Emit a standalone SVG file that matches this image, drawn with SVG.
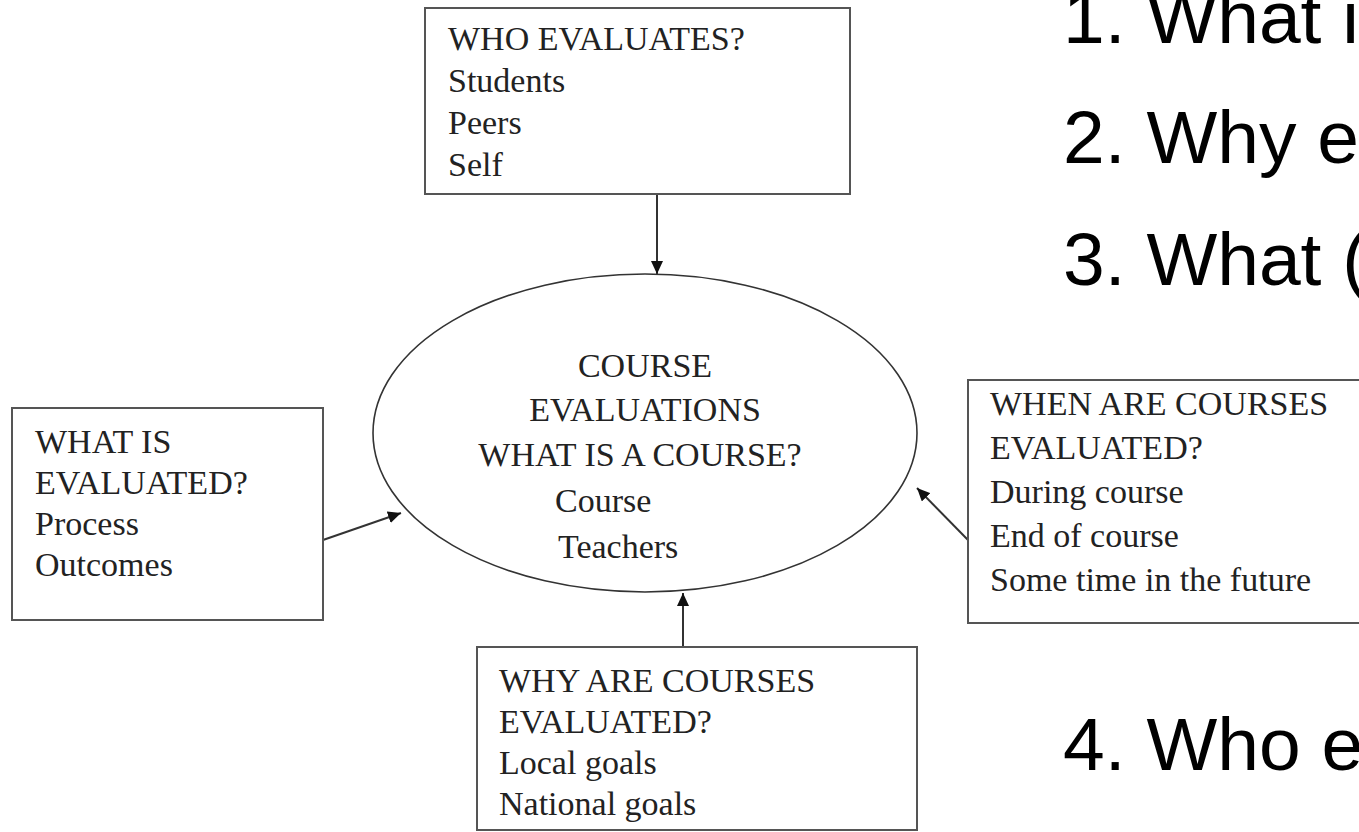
<svg xmlns="http://www.w3.org/2000/svg" width="1359" height="832" viewBox="0 0 1359 832">
<style>
.box{fill:#fff;stroke:#555;stroke-width:2}
.ell{fill:#fff;stroke:#333;stroke-width:1.6}
.t{font-family:"Liberation Serif","Times New Roman",serif;font-size:34px;fill:#222}
.big{font-family:"Liberation Sans",Arial,sans-serif;font-size:75px;fill:#000}
.con{stroke:#333;stroke-width:2;fill:none;marker-end:url(#ah)}
</style>
<defs>
<marker id="ah" markerUnits="userSpaceOnUse" markerWidth="14" markerHeight="12" refX="13" refY="6" orient="auto">
<path d="M0,0 L13,6 L0,12 Z" fill="#111"/>
</marker>
</defs>
<rect width="1359" height="832" fill="#fff"/>
<g id="connectors">
<line class="con" x1="657" y1="194" x2="657" y2="274"/>
<line class="con" x1="323" y1="540" x2="401" y2="513"/>
<line class="con" x1="968" y1="540" x2="917" y2="488"/>
<line class="con" x1="683" y1="647" x2="683" y2="593"/>
</g>
<g id="center">
<ellipse class="ell" cx="645" cy="433" rx="272" ry="159"/>
<text class="t" x="645" y="377" text-anchor="middle">COURSE</text>
<text class="t" x="645" y="421" text-anchor="middle">EVALUATIONS</text>
<text class="t" x="640" y="466" text-anchor="middle">WHAT IS A COURSE?</text>
<text class="t" x="555" y="512">Course</text>
<text class="t" x="558" y="558">Teachers</text>
</g>
<g id="who">
<rect class="box" x="425" y="8" width="425" height="186"/>
<text class="t" x="448" y="50">WHO EVALUATES?</text>
<text class="t" x="448" y="92">Students</text>
<text class="t" x="448" y="134">Peers</text>
<text class="t" x="448" y="176">Self</text>
</g>
<g id="what">
<rect class="box" x="12" y="408" width="311" height="212"/>
<text class="t" x="35" y="453">WHAT IS</text>
<text class="t" x="35" y="494">EVALUATED?</text>
<text class="t" x="35" y="535">Process</text>
<text class="t" x="35" y="576">Outcomes</text>
</g>
<g id="when">
<rect class="box" x="968" y="380" width="410" height="243"/>
<text class="t" x="990" y="415">WHEN ARE COURSES</text>
<text class="t" x="990" y="459">EVALUATED?</text>
<text class="t" x="990" y="503">During course</text>
<text class="t" x="990" y="547">End of course</text>
<text class="t" x="990" y="591">Some time in the future</text>
</g>
<g id="why">
<rect class="box" x="477" y="647" width="440" height="183"/>
<text class="t" x="499" y="692">WHY ARE COURSES</text>
<text class="t" x="499" y="733">EVALUATED?</text>
<text class="t" x="499" y="774">Local goals</text>
<text class="t" x="499" y="815">National goals</text>
</g>
<g id="questions">
<text class="big" x="1063" y="43">1. What i</text>
<text class="big" x="1063" y="163">2. Why e</text>
<text class="big" x="1063" y="285">3. What (</text>
<text class="big" x="1063" y="770">4. Who e</text>
</g>
</svg>
